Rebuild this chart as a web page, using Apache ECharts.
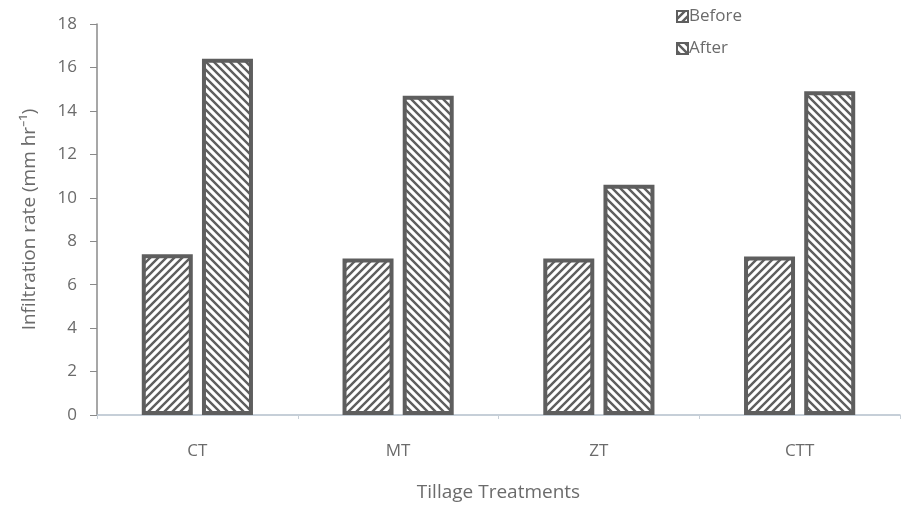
<!DOCTYPE html>
<html>
<head>
<meta charset="utf-8">
<script src="https://cdn.jsdelivr.net/npm/echarts@6/dist/echarts.min.js"></script>
<style>
  html, body { margin: 0; padding: 0; background: #fff; }
  #chart { width: 908px; height: 507px; }
</style>
</head>
<body>
<div id="chart"></div>
<script>
// Infiltration rate by tillage treatment, before and after
const categories = ['CT', 'MT', 'ZT', 'CTT'];
const beforeValues = [7.4, 7.2, 7.2, 7.3];
const afterValues = [16.4, 14.7, 10.6, 14.9];
const yTicks = { min: 0, max: 18, interval: 2 };

const ink = '#5e5e5e';
const textColor = '#6b6b6b';
const fontFamily = '"Open Sans", "Liberation Sans", sans-serif';

// Diagonal hatch tile; dir = 1 draws "/" lines, dir = -1 draws "\" lines
function hatch(dir) {
  const s = 8;
  const c = document.createElement('canvas');
  c.width = s; c.height = s;
  const ctx = c.getContext('2d');
  ctx.fillStyle = '#ffffff';
  ctx.fillRect(0, 0, s, s);
  ctx.strokeStyle = ink;
  ctx.lineWidth = 2.4;
  ctx.beginPath();
  if (dir > 0) {
    ctx.moveTo(-1, 1); ctx.lineTo(1, -1);
    ctx.moveTo(0, s); ctx.lineTo(s, 0);
    ctx.moveTo(s - 1, s + 1); ctx.lineTo(s + 1, s - 1);
  } else {
    ctx.moveTo(-1, s - 1); ctx.lineTo(1, s + 1);
    ctx.moveTo(0, 0); ctx.lineTo(s, s);
    ctx.moveTo(s - 1, -1); ctx.lineTo(s + 1, 1);
  }
  ctx.stroke();
  return { image: c, repeat: 'repeat' };
}

const chart = echarts.init(document.getElementById('chart'), null, { renderer: 'canvas' });

chart.setOption({
  animation: false,
  backgroundColor: '#ffffff',
  grid: { left: 97, right: 8, top: 24, bottom: 92, containLabel: false, outerBoundsMode: 'none' },
  legend: {
    orient: 'vertical',
    left: 671,
    top: 3,
    itemWidth: 11,
    itemHeight: 11,
    itemGap: 15,
    icon: 'rect',
    textStyle: { color: textColor, fontSize: 17, fontFamily: fontFamily, padding: [0, 0, 0, -4] },
    data: ['Before', 'After']
  },
  xAxis: {
    type: 'category',
    data: categories,
    name: 'Tillage Treatments',
    nameLocation: 'middle',
    nameGap: 68,
    nameTextStyle: { color: textColor, fontSize: 19, fontFamily: fontFamily },
    axisLine: { lineStyle: { color: '#b4c0cc', width: 1.5 } },
    axisTick: { show: true, length: 4, lineStyle: { color: '#c8d0d8' } },
    axisLabel: { color: textColor, fontSize: 17, fontFamily: fontFamily, margin: 28 }
  },
  yAxis: {
    type: 'value',
    min: yTicks.min,
    max: yTicks.max,
    interval: yTicks.interval,
    name: 'Infiltration rate (mm hr\u207B\u00B9)',
    nameLocation: 'middle',
    nameGap: 58,
    nameTextStyle: { color: textColor, fontSize: 19, fontFamily: fontFamily },
    axisLine: { show: true, lineStyle: { color: '#8a8a8a', width: 1.5 } },
    axisTick: { show: true, inside: false, length: 7, lineStyle: { color: '#8a8a8a' } },
    axisLabel: { color: textColor, fontSize: 17, fontFamily: fontFamily, margin: 20 },
    splitLine: { show: false }
  },
  series: [
    {
      name: 'Before',
      type: 'bar',
      data: beforeValues,
      barWidth: 51,
      barGap: '18%',
      itemStyle: { color: hatch(1), borderColor: ink, borderWidth: 4 }
    },
    {
      name: 'After',
      type: 'bar',
      data: afterValues,
      barWidth: 51,
      barGap: '18%',
      itemStyle: { color: hatch(-1), borderColor: ink, borderWidth: 4 }
    }
  ]
});
</script>
</body>
</html>
